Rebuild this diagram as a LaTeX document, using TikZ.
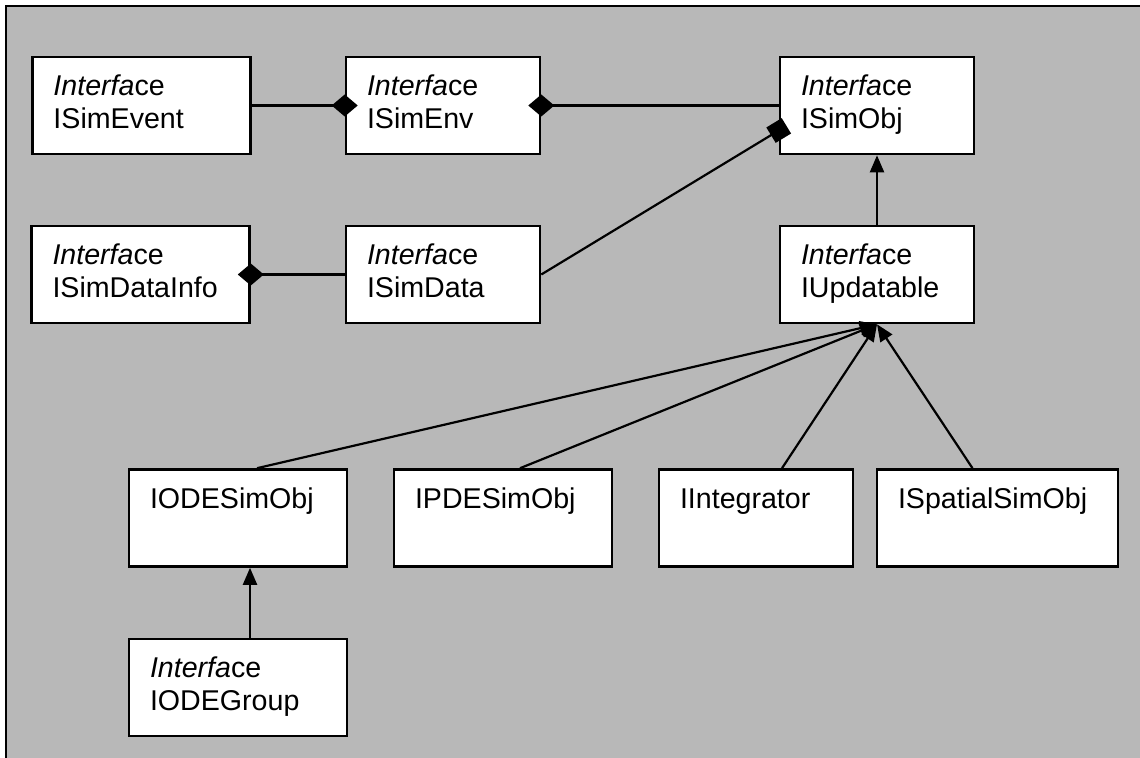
\documentclass[tikz,border=0pt]{standalone}
\usepackage{fontspec}
\setmainfont{Liberation Sans}
\usetikzlibrary{arrows.meta,calc}
\definecolor{paper}{gray}{0.72}

\begin{document}
\begin{tikzpicture}[x=0.5pt,y=-0.5pt,
	box/.style={draw, fill=white, line width=1.3pt, inner xsep=10.5pt, inner ysep=0pt,
		minimum height=48.5pt, text width=#1, align=left, font=\fontsize{14.3}{16.5}\selectfont},
	link/.style={line width=1.1pt},
	isa/.style={link, -{Triangle[length=8.5pt,width=7pt]}},
	owns/.style={link, shorten >=-6.5pt, -{Diamond[length=13pt,width=11pt]}},
	owned/.style={link, shorten <=-6.5pt, {Diamond[length=13pt,width=11pt]}-},
	uses/.style={link, shorten >=-4.5pt, -{Square[length=9pt,width=9pt]}}]
	  \useasboundingbox (0,0) rectangle (1140,758);
	  \fill[paper] (6,6) rectangle (1140,758);
	  \draw[line width=1pt] (6,758) -- (6,6) -- (1140,6);
	  
	  \node[box=88pt] (event) at (141.5,105.5) {\textit{Interfa}ce\strut\\ISimEvent\strut};
	  \node[box=76pt] (env) at (443,105.5) {\textit{Interfa}ce\strut\\ISimEnv\strut};
	  \node[box=76pt] (obj) at (877,105.5) {\textit{Interfa}ce\strut\\ISimObj\strut};
	  
	  \node[box=88pt] (info) at (140.5,274.5) {\textit{Interfa}ce\strut\\ISimDataInfo\strut};
	  \node[box=76pt] (data) at (443,274.5) {\textit{Interfa}ce\strut\\ISimData\strut};
	  \node[box=76pt] (upd) at (877,274.5) {\textit{Interfa}ce\strut\\IUpdatable\strut};
	  
	  \node[box=88pt] (ode) at (238,518) {IODESimObj\strut\\\strut};
	  \node[box=88pt] (pde) at (503,518) {IPDESimObj\strut\\\strut};
	  \node[box=76pt] (integ) at (756,518) {IIntegrator\strut\\\strut};
	  \node[box=99.5pt] (spatial) at (997.5,518) {ISpatialSimObj\strut\\\strut};
	  
	  \node[box=88pt] (group) at (238,687.5) {\textit{Interfa}ce\strut\\IODEGroup\strut};
	  
	  \draw[owns] (event) -- (env);
	  \draw[owned] (env) -- (obj);
	  \draw[owned] (info) -- (data);
	  \draw[uses] (data.east) -- ($(obj.west)+(0,25)$);
	  \draw[isa] (upd) -- (obj);
	  
	  \draw[isa] ($(ode.north)+(19,0)$) -- (upd.south);
	  \draw[isa] ($(pde.north)+(17,0)$) -- (upd.south);
	  \draw[isa] ($(integ.north)+(26,0)$) -- (upd.south);
	  \draw[isa] ($(spatial.north)+(-25,0)$) -- (upd.south);
	  \draw[isa] ($(group.north)+(12,0)$) -- ($(ode.south)+(12,0)$);
	\end{tikzpicture}
\end{document}
